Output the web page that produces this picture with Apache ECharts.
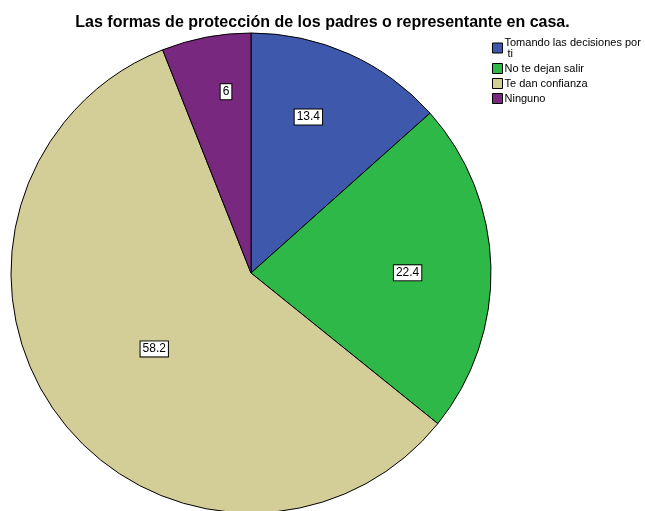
<!DOCTYPE html>
<html>
<head>
<meta charset="utf-8">
<script src="https://cdn.jsdelivr.net/npm/echarts@6/dist/echarts.min.js"></script>
<style>
  html, body { margin: 0; padding: 0; background: #fff; }
  #chart { width: 645px; height: 511px; }
</style>
</head>
<body>
<div id="chart"></div>
<script>
const categories = ["Tomando las decisiones por ti", "No te dejan salir", "Te dan confianza", "Ninguno"]
const values = [13.4, 22.4, 58.2, 6]
const colors = ["#3e58ac", "#2eb848", "#d3ce97", "#79287f"]
// label placement: distance from centre (fraction of radius) and angle nudge (deg)
const labelRadius = [0.68, 0.64, 0.5, 0.75]
const labelNudge = [-4, 1.4, -1.8, 3]

const chart = echarts.init(document.getElementById("chart"))

const radius = 240
const total = values.reduce((a, b) => a + b, 0)
let acc = 0
const pieData = categories.map((name, i) => {
  const midDeg = (acc + values[i] / 2) / total * 360
  acc += values[i]
  const mid = midDeg * Math.PI / 180
  const target = (midDeg + labelNudge[i]) * Math.PI / 180
  const r = labelRadius[i] * radius
  const half = 0.5 * radius
  return {
    name: name,
    value: values[i],
    itemStyle: { color: colors[i] },
    label: {
      offset: [
        Math.sin(target) * r - Math.sin(mid) * half,
        -Math.cos(target) * r + Math.cos(mid) * half,
      ],
    },
  }
})

const option = {
  backgroundColor: "#fff",
  animation: false,
  title: {
    text: "Las formas de protección de los padres o representante en casa.",
    left: "center",
    top: 10,
    textStyle: { fontFamily: "Liberation Sans", fontSize: 16, fontWeight: "bold", color: "#000" },
  },
  legend: {
    orient: "vertical",
    left: 492,
    top: 37,
    padding: 0,
    itemWidth: 10,
    itemHeight: 10,
    itemGap: 4,
    icon: "rect",
    itemStyle: { borderColor: "#000", borderWidth: 1 },
    textStyle: {
      fontFamily: "Liberation Sans",
      fontSize: 11,
      color: "#000",
      padding: [0, 0, 0, -3],
      width: 138,
      overflow: "break",
      lineHeight: 11,
    },
    data: categories,
  },
  series: [
    {
      type: "pie",
      center: [251, 273],
      radius: radius,
      startAngle: 90,
      clockwise: true,
      data: pieData,
      itemStyle: { borderColor: "#000", borderWidth: 1 },
      label: {
        position: "inner",
        formatter: "{c}",
        fontFamily: "Liberation Sans",
        fontSize: 12,
        color: "#000",
        backgroundColor: "#fff",
        borderColor: "#000",
        borderWidth: 1,
        padding: [2, 2, 1, 2],
      },
      emphasis: { disabled: true },
    },
  ],
}

chart.setOption(option)
</script>
</body>
</html>
